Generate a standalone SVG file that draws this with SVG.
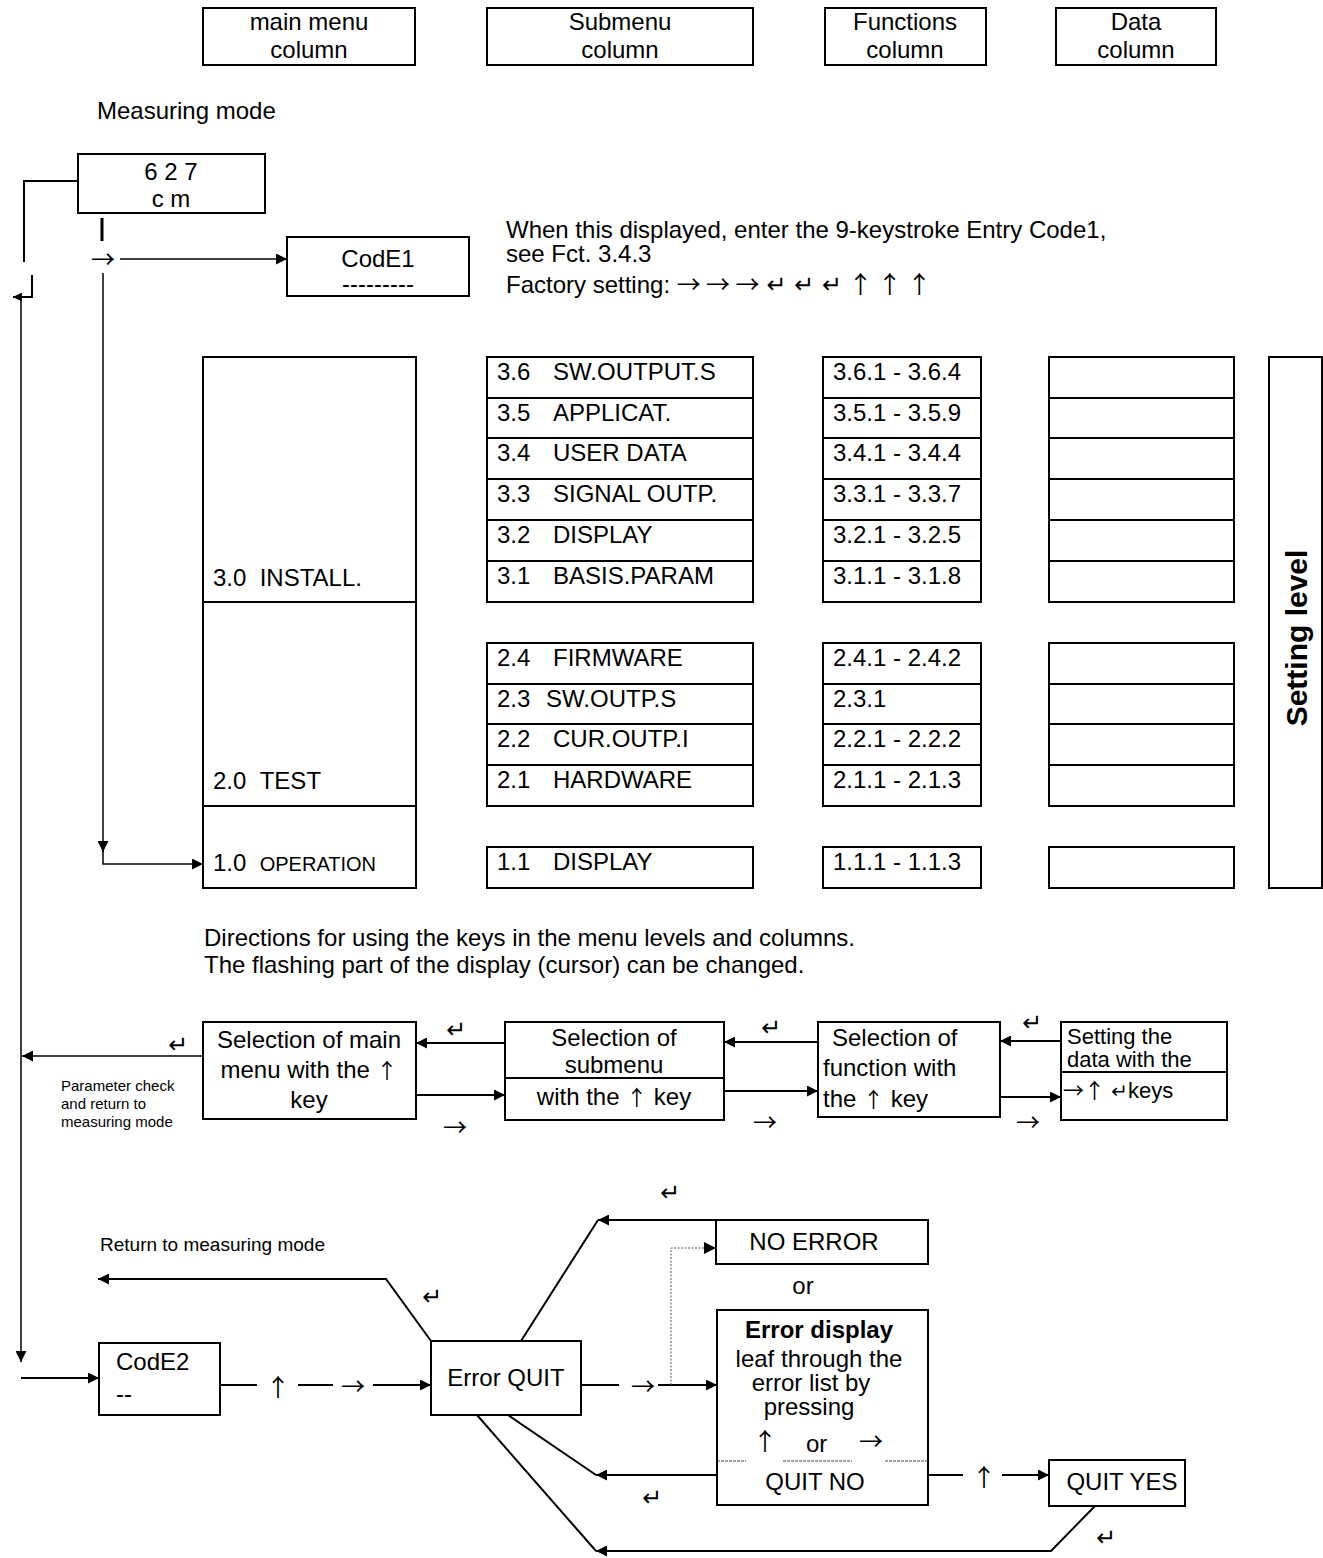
<svg xmlns="http://www.w3.org/2000/svg" width="1323" height="1558" viewBox="0 0 1323 1558">
<style>
.bx{fill:#fff;stroke:#000;stroke-width:2}
.ln{fill:none;stroke:#000;stroke-width:2}
.thin{fill:none;stroke:#000;stroke-width:1.5}
.dot{fill:none;stroke:#555;stroke-width:1;stroke-dasharray:2 1.5}
.dash{fill:none;stroke:#444;stroke-width:1;stroke-dasharray:3 1}
text{font-family:"Liberation Sans","DejaVu Sans",sans-serif;font-size:24px;fill:#000}
.c{text-anchor:middle}
.s15{font-size:15px}
.s19{font-size:19px}
.s20{font-size:20px}
.s22{font-size:22px}
.b{font-weight:bold}
.ar{font-family:"Noto Sans CJK SC","DejaVu Sans",sans-serif}
.ars{font-family:"Noto Sans CJK SC","DejaVu Sans",sans-serif;font-size:21px}
.sym{font-family:"DejaVu Sans",sans-serif;font-size:24px}
</style>
<defs>
<marker id="ah" viewBox="0 0 10 10" refX="10" refY="5" markerWidth="11" markerHeight="11" markerUnits="userSpaceOnUse" orient="auto">
<path d="M0,0 L10,5 L0,10 z" fill="#000"/>
</marker>
<marker id="as" viewBox="0 0 10 10" refX="10" refY="5" markerWidth="9" markerHeight="9" markerUnits="userSpaceOnUse" orient="auto">
<path d="M0,0 L10,5 L0,10 z" fill="#000"/>
</marker>
</defs>

<!-- header -->
<g id="hdr-main"><rect class="bx" x="203" y="8" width="212" height="57"/><text class="c" x="309" y="30">main menu</text><text class="c" x="309" y="58">column</text></g>
<g id="hdr-sub"><rect class="bx" x="487" y="8" width="266" height="57"/><text class="c" x="620" y="30">Submenu</text><text class="c" x="620" y="58">column</text></g>
<g id="hdr-fct"><rect class="bx" x="825" y="8" width="161" height="57"/><text class="c" x="905" y="30">Functions</text><text class="c" x="905" y="58">column</text></g>
<g id="hdr-data"><rect class="bx" x="1056" y="8" width="160" height="57"/><text class="c" x="1136" y="30">Data</text><text class="c" x="1136" y="58">column</text></g>

<text x="97" y="119">Measuring mode</text>

<g id="meas"><rect class="bx" x="78" y="154" width="187" height="59"/><text class="c" x="171" y="180">6 2 7</text><text class="c" x="171" y="207">c m</text></g>
<g id="code1"><rect class="bx" x="287" y="237" width="182" height="59"/><text class="c" x="378" y="267">CodE1</text><text class="c" x="378" y="292">---------</text></g>

<g id="note1">
<text x="506" y="238">When this displayed, enter the 9-keystroke Entry Code1,</text>
<text x="506" y="262">see Fct. 3.4.3</text>
<text x="506" y="293">Factory setting: <tspan class="ar">→ → →</tspan> <tspan class="sym">↵ ↵ ↵</tspan> <tspan class="ar">↑ ↑ ↑</tspan></text>
</g>

<!-- main menu column -->
<g id="m30"><rect class="bx" x="203" y="357" width="213" height="245"/><text x="213" y="586">3.0&#160;&#160;INSTALL.</text></g>
<g id="m20"><rect class="bx" x="203" y="602" width="213" height="204"/><text x="213" y="789">2.0&#160;&#160;TEST</text></g>
<g id="m10"><rect class="bx" x="203" y="806" width="213" height="82"/><text x="213" y="871">1.0&#160;&#160;<tspan class="s20">OPERATION</tspan></text></g>

<!-- submenu column -->
<g id="s36"><rect class="bx" x="487" y="357" width="266" height="41"/><text x="497" y="380">3.6</text><text x="553" y="380">SW.OUTPUT.S</text></g>
<g id="s35"><rect class="bx" x="487" y="398" width="266" height="40"/><text x="497" y="421">3.5</text><text x="553" y="421">APPLICAT.</text></g>
<g id="s34"><rect class="bx" x="487" y="438" width="266" height="41"/><text x="497" y="461">3.4</text><text x="553" y="461">USER DATA</text></g>
<g id="s33"><rect class="bx" x="487" y="479" width="266" height="41"/><text x="497" y="502">3.3</text><text x="553" y="502">SIGNAL OUTP.</text></g>
<g id="s32"><rect class="bx" x="487" y="520" width="266" height="41"/><text x="497" y="543">3.2</text><text x="553" y="543">DISPLAY</text></g>
<g id="s31"><rect class="bx" x="487" y="561" width="266" height="41"/><text x="497" y="584">3.1</text><text x="553" y="584">BASIS.PARAM</text></g>
<g id="s24"><rect class="bx" x="487" y="643" width="266" height="41"/><text x="497" y="666">2.4</text><text x="553" y="666">FIRMWARE</text></g>
<g id="s23"><rect class="bx" x="487" y="684" width="266" height="40"/><text x="497" y="707">2.3</text><text x="546" y="707">SW.OUTP.S</text></g>
<g id="s22"><rect class="bx" x="487" y="724" width="266" height="41"/><text x="497" y="747">2.2</text><text x="553" y="747">CUR.OUTP.I</text></g>
<g id="s21"><rect class="bx" x="487" y="765" width="266" height="41"/><text x="497" y="788">2.1</text><text x="553" y="788">HARDWARE</text></g>
<g id="s11"><rect class="bx" x="487" y="847" width="266" height="41"/><text x="497" y="870">1.1</text><text x="553" y="870">DISPLAY</text></g>

<!-- functions column -->
<g id="f36"><rect class="bx" x="823" y="357" width="158" height="41"/><text x="833" y="380">3.6.1 - 3.6.4</text></g>
<g id="f35"><rect class="bx" x="823" y="398" width="158" height="40"/><text x="833" y="421">3.5.1 - 3.5.9</text></g>
<g id="f34"><rect class="bx" x="823" y="438" width="158" height="41"/><text x="833" y="461">3.4.1 - 3.4.4</text></g>
<g id="f33"><rect class="bx" x="823" y="479" width="158" height="41"/><text x="833" y="502">3.3.1 - 3.3.7</text></g>
<g id="f32"><rect class="bx" x="823" y="520" width="158" height="41"/><text x="833" y="543">3.2.1 - 3.2.5</text></g>
<g id="f31"><rect class="bx" x="823" y="561" width="158" height="41"/><text x="833" y="584">3.1.1 - 3.1.8</text></g>
<g id="f24"><rect class="bx" x="823" y="643" width="158" height="41"/><text x="833" y="666">2.4.1 - 2.4.2</text></g>
<g id="f23"><rect class="bx" x="823" y="684" width="158" height="40"/><text x="833" y="707">2.3.1</text></g>
<g id="f22"><rect class="bx" x="823" y="724" width="158" height="41"/><text x="833" y="747">2.2.1 - 2.2.2</text></g>
<g id="f21"><rect class="bx" x="823" y="765" width="158" height="41"/><text x="833" y="788">2.1.1 - 2.1.3</text></g>
<g id="f11"><rect class="bx" x="823" y="847" width="158" height="41"/><text x="833" y="870">1.1.1 - 1.1.3</text></g>

<!-- data column -->
<g id="d3">
<rect class="bx" x="1049" y="357" width="185" height="41"/>
<rect class="bx" x="1049" y="398" width="185" height="40"/>
<rect class="bx" x="1049" y="438" width="185" height="41"/>
<rect class="bx" x="1049" y="479" width="185" height="41"/>
<rect class="bx" x="1049" y="520" width="185" height="41"/>
<rect class="bx" x="1049" y="561" width="185" height="41"/>
</g>
<g id="d2">
<rect class="bx" x="1049" y="643" width="185" height="41"/>
<rect class="bx" x="1049" y="684" width="185" height="40"/>
<rect class="bx" x="1049" y="724" width="185" height="41"/>
<rect class="bx" x="1049" y="765" width="185" height="41"/>
</g>
<g id="d1"><rect class="bx" x="1049" y="847" width="185" height="41"/></g>

<g id="setting-level"><rect class="bx" x="1269" y="357" width="53" height="531"/><text class="c b" style="font-size:30px" transform="translate(1307,638) rotate(-90)">Setting level</text></g>

<g id="directions">
<text x="204" y="946">Directions for using the keys in the menu levels and columns.</text>
<text x="204" y="973">The flashing part of the display (cursor) can be changed.</text>
</g>

<g id="selA"><rect class="bx" x="203" y="1022" width="213" height="97"/><text class="c" x="309" y="1048">Selection of main</text><text class="c" x="309" y="1078">menu with the <tspan class="ars">↑</tspan></text><text class="c" x="309" y="1108">key</text></g>
<g id="selB"><rect class="bx" x="505" y="1022" width="219" height="98"/><line class="ln" x1="505" y1="1078" x2="724" y2="1078"/><text class="c" x="614" y="1046">Selection of</text><text class="c" x="614" y="1073">submenu</text><text class="c" x="614" y="1105">with the <tspan class="ars">↑</tspan> key</text></g>
<g id="selC"><rect class="bx" x="818" y="1022" width="182" height="95"/><text x="832" y="1046">Selection of</text><text x="823" y="1076">function with</text><text x="823" y="1107">the <tspan class="ars">↑</tspan> key</text></g>
<g id="selD"><rect class="bx" x="1061" y="1022" width="166" height="98"/><line class="ln" x1="1061" y1="1072" x2="1227" y2="1072"/><text class="s22" x="1067" y="1044">Setting the</text><text class="s22" x="1067" y="1067">data with the</text><text class="s22" x="1063" y="1098"><tspan class="ars">→↑</tspan> <tspan class="sym" style="font-size:20px">↵</tspan>keys</text></g>

<g id="param-note">
<text class="s15" x="61" y="1091">Parameter check</text>
<text class="s15" x="61" y="1109">and return to</text>
<text class="s15" x="61" y="1127">measuring mode</text>
</g>

<text class="s19" x="100" y="1251">Return to measuring mode</text>

<g id="code2"><rect class="bx" x="99" y="1343" width="121" height="72"/><text x="116" y="1370">CodE2</text><text x="116" y="1402">--</text></g>
<g id="errquit"><rect class="bx" x="431" y="1341" width="150" height="74"/><text class="c" x="506" y="1386">Error QUIT</text></g>
<g id="noerror"><rect class="bx" x="716" y="1220" width="212" height="44"/><text class="c" x="814" y="1250">NO ERROR</text></g>
<text class="c" x="803" y="1294">or</text>
<g id="errdisp"><rect class="bx" x="717" y="1310" width="211" height="195"/>
<text class="c b" x="819" y="1338">Error display</text>
<text class="c" x="819" y="1367">leaf through the</text>
<text class="c" x="811" y="1391">error list by</text>
<text class="c" x="809" y="1415">pressing</text>
<text class="ar" x="753" y="1450">↑</text><text x="806" y="1452">or</text><text class="ar" x="859" y="1450">→</text>
<path class="dash" d="M717,1461 H746 M783,1461 H852 M885,1461 H928"/>
<text class="c" x="815" y="1490">QUIT NO</text>
</g>
<g id="quityes"><rect class="bx" x="1049" y="1460" width="136" height="46"/><text class="c" x="1122" y="1490">QUIT YES</text></g>

<!-- connectors -->
<g id="connectors">
<path class="ln" d="M78,181 H24 V262"/>
<path class="ln" d="M32,275 V297 H13" marker-end="url(#as)"/>
<path class="thin" d="M21,297 V1362" marker-end="url(#ah)"/>
<path class="ln" d="M21,1378 H99" marker-end="url(#ah)"/>
<line x1="102" y1="218" x2="102" y2="241" stroke="#000" stroke-width="3"/>
<text class="ar" x="91" y="268">→</text>
<path class="thin" d="M120,259 H287" marker-end="url(#ah)"/>
<path class="thin" d="M103,273 V852" marker-end="url(#ah)"/>
<path class="thin" d="M103,850 V864 H203" marker-end="url(#ah)"/>

<path class="thin" d="M203,1056 H22" marker-end="url(#ah)"/>
<text class="sym" x="168" y="1053">↵</text>
<path class="ln" d="M505,1043 H416" marker-end="url(#ah)"/>
<text class="sym" x="446" y="1038">↵</text>
<path class="ln" d="M416,1095 H505" marker-end="url(#ah)"/>
<text class="ar" x="443" y="1136">→</text>
<path class="ln" d="M818,1042 H724" marker-end="url(#ah)"/>
<text class="sym" x="761" y="1036">↵</text>
<path class="ln" d="M724,1091 H818" marker-end="url(#ah)"/>
<text class="ar" x="753" y="1131">→</text>
<path class="ln" d="M1061,1041 H1000" marker-end="url(#ah)"/>
<text class="sym" x="1022" y="1031">↵</text>
<path class="ln" d="M1000,1097 H1061" marker-end="url(#ah)"/>
<text class="ar" x="1016" y="1131">→</text>

<text class="sym" x="660" y="1201">↵</text>
<path class="ln" d="M716,1220 H598" marker-end="url(#ah)"/>
<path class="ln" d="M598,1220 L521,1341"/>
<path class="ln" d="M431,1341 L386,1279 H98" marker-end="url(#ah)"/>
<text class="sym" x="422" y="1305">↵</text>

<path class="ln" d="M220,1385 H257"/>
<text class="ar" x="266" y="1396">↑</text>
<path class="ln" d="M298,1385 H333"/>
<text class="ar" x="341" y="1395">→</text>
<path class="ln" d="M373,1385 H431" marker-end="url(#ah)"/>

<path class="ln" d="M581,1385 H619"/>
<text class="ar" x="631" y="1395">→</text>
<path class="ln" d="M658,1385 H717" marker-end="url(#ah)"/>
<path class="dot" d="M671,1385 V1248 H706"/>
<path d="M704,1242 L716,1248 L704,1254 z" fill="#000"/>

<path class="ln" d="M717,1475 H596" marker-end="url(#ah)"/>
<path class="ln" d="M508,1415 L596,1475"/>
<text class="sym" x="642" y="1506">↵</text>
<path class="ln" d="M477,1415 L596,1551"/>
<path class="ln" d="M1095,1506 L1051,1551 H596" marker-end="url(#ah)"/>
<text class="sym" x="1096" y="1546">↵</text>

<path class="ln" d="M928,1475 H963"/>
<text class="ar" x="972" y="1486">↑</text>
<path class="ln" d="M1002,1475 H1049" marker-end="url(#ah)"/>
</g>
</svg>
